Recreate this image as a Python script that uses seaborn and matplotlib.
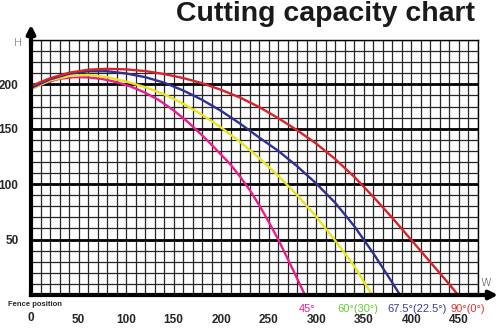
import numpy as np
import pandas as pd
import matplotlib
matplotlib.use("Agg")
import matplotlib.pyplot as plt
import seaborn as sns

# ---- data (W in mm, H in grid units) ----
w_45 = [0, 15, 30, 45, 60, 75, 90, 105, 120, 135, 150, 165, 180, 195, 210, 220, 230, 240, 250, 260, 270, 280, 288]
h_45 = [185.8, 191.5, 195, 196.5, 196.3, 194.8, 192, 188, 182.5, 175.5, 166.5, 156, 144, 131, 117.5, 106.5,
        94.7, 81, 66, 50, 32.5, 14.5, 0]

w_60 = [0, 20, 40, 60, 80, 100, 120, 140, 160, 180, 200, 220, 240, 260, 280, 300, 320, 340, 358.6]
h_60 = [185.8, 193.5, 197.5, 198.5, 196.5, 192.5, 187.5, 181, 172.5, 162.5, 151, 138, 123.5, 107.5, 90,
        70.5, 49, 26, 0]

w_675 = [0, 20, 40, 60, 80, 100, 120, 140, 160, 180, 200, 220, 240, 260, 280, 300, 320, 340, 360, 380, 388]
h_675 = [186.7, 194.5, 199.5, 201.8, 201.8, 199.8, 196.5, 191.5, 184.5, 176, 166, 154.5, 142, 130, 116,
         100.5, 83, 62, 37.5, 11, 0]

w_90 = [0, 20, 40, 60, 80, 100, 120, 140, 160, 180, 200, 220, 240, 260, 280, 300, 320, 340, 360, 380, 400,
        420, 440, 449]
h_90 = [188.5, 195.5, 200.5, 203.2, 204, 203.5, 202, 199.3, 195.7, 191, 185, 178, 169.5, 159.5, 148.5,
        136.5, 122.5, 106.5, 88.5, 69.5, 49.5, 29.5, 9.5, 0]

series_names = ["45°", "60°(30°)", "67.5°(22.5°)", "90°(0°)"]
line_colors = ["#ec1c8c", "#e6e619", "#2e3192", "#d9232a"]
label_colors = ["#ec1c8c", "#66cc33", "#3a3aa0", "#e03030"]
label_x = [290, 344, 406, 459.5]

xtick_vals = [0, 50, 100, 150, 200, 250, 300, 350, 400, 450]
ytick_pos = [50, 100, 150, 190]
ytick_labels = ["50", "100", "150", "200"]

frames = []
for name, w, h in zip(series_names, [w_45, w_60, w_675, w_90], [h_45, h_60, h_675, h_90]):
    frames.append(pd.DataFrame({"W": w, "H": h, "angle": name}))
df = pd.concat(frames, ignore_index=True)

sns.set_style("white")
plt.rcParams["font.family"] = ["Liberation Sans", "DejaVu Sans"]

fig = plt.figure(figsize=(5, 3.28), dpi=100)
ax = fig.add_axes([31 / 500, 33 / 328, 447 / 500, 255 / 328])

# grid
ax.set_xlim(0, 470)
ax.set_ylim(0, 230)
ax.set_xticks(xtick_vals)
ax.set_xticks(np.arange(0, 471, 10), minor=True)
ax.set_yticks(ytick_pos)
ax.set_yticks(np.arange(0, 231, 10), minor=True)
ax.grid(True, which="minor", color="#262626", lw=0.9)
ax.grid(True, which="major", axis="x", color="#262626", lw=0.9)
ax.grid(True, which="major", axis="y", color="black", lw=2.0)
ax.set_axisbelow(True)

sns.lineplot(data=df, x="W", y="H", hue="angle", palette=dict(zip(series_names, line_colors)),
             sort=False, estimator=None, lw=1.7, legend=False, ax=ax)

ax.set_xlabel("")
ax.set_ylabel("")
ax.set_xticklabels([""] + [str(v) for v in xtick_vals[1:]], fontsize=8.5, fontweight="bold")
ax.set_yticklabels(ytick_labels, fontsize=8.5, fontweight="bold")
ax.tick_params(axis="x", which="major", length=4, width=1, color="black", direction="out", pad=10)
ax.tick_params(axis="x", which="minor", length=0)
ax.tick_params(axis="y", which="both", length=0, pad=9)
# the "0" label sits a little higher than the others
ax.text(xtick_vals[0], -23 * 230 / 255, str(xtick_vals[0]), fontsize=8.5, fontweight="bold",
        ha="center", va="center")

for s in ["left", "bottom"]:
    ax.spines[s].set_linewidth(3)
    ax.spines[s].set_color("black")
for s in ["top", "right"]:
    ax.spines[s].set_linewidth(1)
    ax.spines[s].set_color("black")

# arrows
ax.annotate("", xy=(0, 1.06), xytext=(0, 0.98), xycoords="axes fraction",
            arrowprops=dict(arrowstyle="-|>", lw=3, color="black", mutation_scale=12, shrinkA=0, shrinkB=0),
            annotation_clip=False)
ax.annotate("", xy=(1.045, 0), xytext=(0.98, 0), xycoords="axes fraction",
            arrowprops=dict(arrowstyle="-|>", lw=3, color="black", mutation_scale=12, shrinkA=0, shrinkB=0),
            annotation_clip=False)

# axis letters
fig.text(18 / 500, 1 - 43 / 328, "H", fontsize=8, color="#444444", ha="center", va="center",
         family=["DejaVu Sans"], fontweight="light")
fig.text(486 / 500, 1 - 283 / 328, "W", fontsize=8, color="#444444", ha="center", va="center",
         family=["DejaVu Sans"], fontweight="light")

# title
fig.text(325 / 500, 1 - 14 / 328, "Cutting capacity chart", fontsize=20.5, fontweight="bold",
         ha="center", va="center", color="#1a1a1a")

fig.text(8 / 500, 1 - 304 / 328, "Fence position", fontsize=5.5, fontweight="bold",
         ha="left", va="center")

# angle labels
for name, col, lx in zip(series_names, label_colors, label_x):
    ax.text(lx, -14 * 230 / 255, name, color=col, fontsize=8, ha="center", va="center",
            family=["Liberation Sans", "DejaVu Sans"])

fig.savefig("out.png", dpi=100)
